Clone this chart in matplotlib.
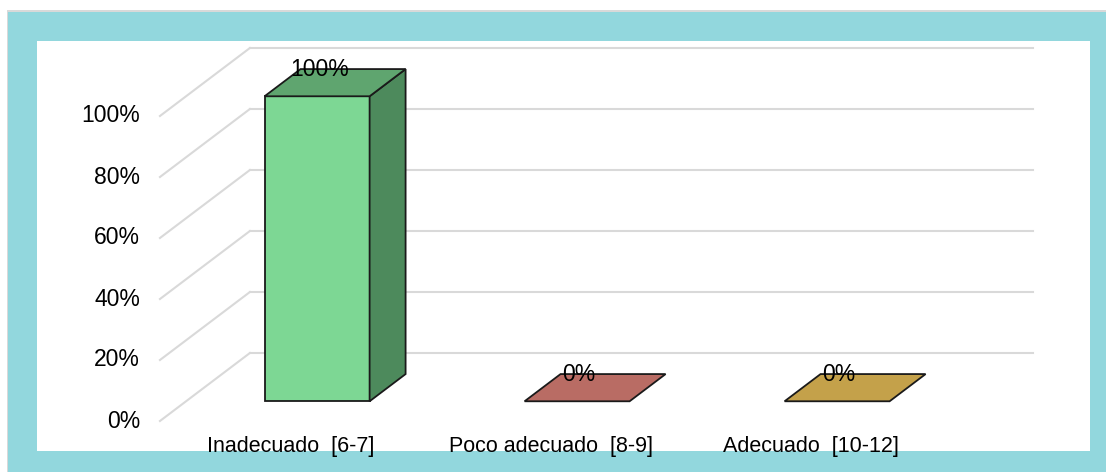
import matplotlib.pyplot as plt
from matplotlib.patches import Polygon, Rectangle

# data
categories = ['Inadecuado  [6-7]', 'Poco adecuado  [8-9]', 'Adecuado  [10-12]']
values = [100, 0, 0]
ticks = [0, 20, 40, 60, 80, 100]
tick_labels = ['0%', '20%', '40%', '60%', '80%', '100%']

front_cols = ['#7DD794', '#B96C64', '#C4A14A']
side_cols = ['#4D8A5C', '#8E4E48', '#9A7E38']
top_cols = ['#5FA56F', '#B96C64', '#C4A14A']

plt.rcParams['font.family'] = ['Liberation Sans', 'DejaVu Sans']

W, H = 1106, 472
fig = plt.figure(figsize=(W / 100, H / 100), dpi=100)
fig.patch.set_facecolor('white')


def fig_rect(x0, y0, x1, y1, color):
    fig.add_artist(Rectangle((x0 / W, 1 - y1 / H), (x1 - x0) / W, (y1 - y0) / H,
                             transform=fig.transFigure, facecolor=color,
                             edgecolor='none', zorder=0))


# frame
fig_rect(7, 10, W, H, '#D9D9D9')
fig_rect(8, 12, W, H, '#92D7DD')
fig_rect(37, 41, 1090, 451, 'white')

# axes in data units: 1 category = 260 px, 1% = 3.05 px
ax = fig.add_axes([0, 0, 1, 1])
ax.patch.set_alpha(0)
ax.set_xlim(-291 / 260, (W - 291) / 260)
ax.set_ylim(-(H - 421) / 3.05, 421 / 3.05)
ax.axis('off')

DX, DY = 0.346, 22.3          # full depth offset of the floor
x_left, x_right = -0.504, 2.508
d0, d1 = 0.29, 0.69            # bar depth span
half_w = 0.202


def proj(x, y, d):
    return (x + d * DX, y + d * DY)


# gridlines
for v, lab in zip(ticks, tick_labels):
    p0, p1 = proj(x_left, v, 1), proj(x_right, v, 1)
    ax.plot([p0[0], p1[0]], [p0[1], p1[1]], color='#D9D9D9', lw=1.5, zorder=1)
    q0 = proj(x_left, v, 0)
    ax.plot([q0[0], p0[0]], [q0[1], p0[1]], color='#D9D9D9', lw=1.5, zorder=1)
    ax.text(-0.581, v, lab, ha='right', va='center', fontsize=16.5, color='black')

# bars
for i, (cat, v) in enumerate(zip(categories, values)):
    xl, xr = i - half_w, i + half_w
    top = [proj(xl, v, d0), proj(xr, v, d0), proj(xr, v, d1), proj(xl, v, d1)]
    if v > 0:
        front = [proj(xl, 0, d0), proj(xr, 0, d0), proj(xr, v, d0), proj(xl, v, d0)]
        side = [proj(xr, 0, d0), proj(xr, 0, d1), proj(xr, v, d1), proj(xr, v, d0)]
        ax.add_patch(Polygon(front, closed=True, facecolor=front_cols[i],
                             edgecolor='#1A1A1A', lw=1.3, zorder=3))
        ax.add_patch(Polygon(side, closed=True, facecolor=side_cols[i],
                             edgecolor='#1A1A1A', lw=1.3, zorder=3))
    ax.add_patch(Polygon(top, closed=True, facecolor=top_cols[i],
                         edgecolor='#1A1A1A', lw=1.3, zorder=3))
    lx, _ = proj(i, 0, d0)
    _, ly = proj(i, v, d1)
    ax.text(lx + 0.008, ly, f'{v}%', ha='center', va='center', fontsize=16.5,
            color='black', zorder=4)
    ax.text(i, -8.2, cat, ha='center', va='center', fontsize=15.5,
            color='black', zorder=4)

fig.savefig('out.png', dpi=100)
